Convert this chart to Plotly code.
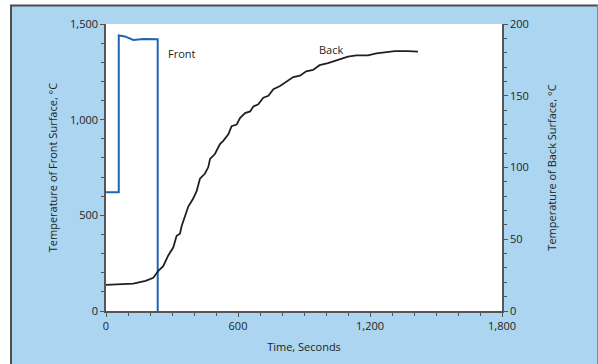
import plotly.graph_objects as go

# Front surface (left axis, °C)
front_time = [0, 58, 58, 86, 124, 170, 235, 235]
front_temp = [620, 620, 1440, 1435, 1417, 1421, 1420, 0]

# Back surface (right axis, °C)
back_time = [0, 60, 124, 180, 215, 238, 260, 283, 306, 321, 336, 344, 359, 374, 395, 412,
             427, 450, 465, 473, 495, 518, 533, 556, 571, 594, 609, 632, 655, 670, 692, 715,
             738, 761, 791, 821, 851, 882, 910, 941, 971, 1009, 1055, 1100, 1138, 1191, 1229,
             1267, 1312, 1373, 1418]
back_temp = [18.2, 18.6, 19.1, 21, 23.2, 28, 31.2, 38.7, 44.4, 52.4, 53.9, 59.2, 66, 72.8, 78, 83.5,
             92.2, 95.8, 100.3, 106, 109.4, 116.3, 118.6, 123.1, 128.8, 129.9, 134.5, 137.9, 139.1, 142.5, 144.1, 148.6,
             150, 154.5, 156.8, 160, 163, 164, 167, 168, 171.3, 172.7, 175, 177.3, 178.2, 178.2, 179.5,
             180, 181.1, 181.1, 180.7]

x_ticks = [0, 600, 1200, 1800]
left_ticks = [0, 500, 1000, 1500]
right_ticks = [0, 50, 100, 150, 200]

FONT = "Open Sans"
TXT = "#231f20"
AX = "#555555"
BG = "#abd5f0"

fig = go.Figure()
fig.add_trace(go.Scatter(x=front_time, y=front_temp, mode="lines",
                         line=dict(color="#1f64b0", width=2), yaxis="y", showlegend=False))
fig.add_trace(go.Scatter(x=back_time, y=back_temp, mode="lines",
                         line=dict(color="#231f20", width=1.8), yaxis="y2", showlegend=False))

L, R, T, B = 106, 502, 24, 317
W, H = R - L, B - T
def px(x):
    return (x - L) / W
def py(y):
    return (B - y) / H

shapes = [
    dict(type="rect", xref="paper", yref="paper", x0=-0.5, x1=px(10), y0=-0.5, y1=1.5,
         fillcolor="white", line=dict(width=0), layer="above"),
    dict(type="rect", xref="paper", yref="paper", x0=-0.5, x1=1.5, y0=py(4.5), y1=1.5,
         fillcolor="white", line=dict(width=0), layer="above"),
    dict(type="line", xref="paper", yref="paper", x0=px(11), x1=px(11), y0=py(400), y1=py(4.5),
         line=dict(color="#4d4d4d", width=2), layer="above"),
    dict(type="line", xref="paper", yref="paper", x0=px(10), x1=px(598), y0=py(5), y1=py(5),
         line=dict(color="#4d4d4d", width=2), layer="above"),
    dict(type="line", xref="paper", yref="paper", x0=px(597.5), x1=px(597.5), y0=py(400), y1=py(5),
         line=dict(color="#6f8fa6", width=1), layer="above"),
]

fig.update_layout(
    width=598, height=364,
    margin=dict(l=L, r=598 - R, t=T, b=364 - B),
    paper_bgcolor=BG, plot_bgcolor="white",
    font=dict(family=FONT, size=11, color=TXT),
    shapes=shapes,
    xaxis=dict(range=[0, 1800], tickvals=x_ticks, tickformat=",d", showgrid=False, zeroline=False,
               showline=True, linecolor=AX, linewidth=1.5, ticks="outside", ticklen=4,
               tickcolor=AX, tickwidth=1.2,
               minor=dict(dtick=100, tick0=0, ticks="outside", ticklen=3, tickcolor=AX, tickwidth=1, showgrid=False),
               title=dict(text="Time, Seconds", standoff=11, font=dict(size=11))),
    yaxis=dict(range=[0, 1500], tickvals=left_ticks, tickformat=",d", showgrid=False, zeroline=False,
               showline=True, linecolor=AX, linewidth=1.5, ticks="outside", ticklen=4,
               tickcolor=AX, tickwidth=1.2,
               minor=dict(dtick=100, tick0=0, ticks="outside", ticklen=3, tickcolor=AX, tickwidth=1, showgrid=False),
               title=dict(text="Temperature of Front Surface, °C", standoff=10, font=dict(size=11))),
    yaxis2=dict(range=[0, 200], tickvals=right_ticks, overlaying="y", side="right", showgrid=False,
                zeroline=False, showline=True, linecolor=AX, linewidth=1.5, ticks="outside", ticklen=4,
                tickcolor=AX, tickwidth=1.2,
                minor=dict(dtick=10, tick0=0, ticks="outside", ticklen=3, tickcolor=AX, tickwidth=1, showgrid=False),
                title=dict(text="Temperature of Back Surface, °C", standoff=20, font=dict(size=11))),
    annotations=[
        dict(x=271, y=1347, xref="x", yref="y", text="Front", showarrow=False, xanchor="left",
             yanchor="middle", font=dict(size=11, color=TXT)),
        dict(x=1023, y=1367, xref="x", yref="y", text="Back", showarrow=False, xanchor="center",
             yanchor="middle", font=dict(size=11, color=TXT)),
    ],
)

fig.write_html("out.html", config={"displayModeBar": False},
               post_script="document.body.style.margin='0';document.body.style.overflow='hidden';")
